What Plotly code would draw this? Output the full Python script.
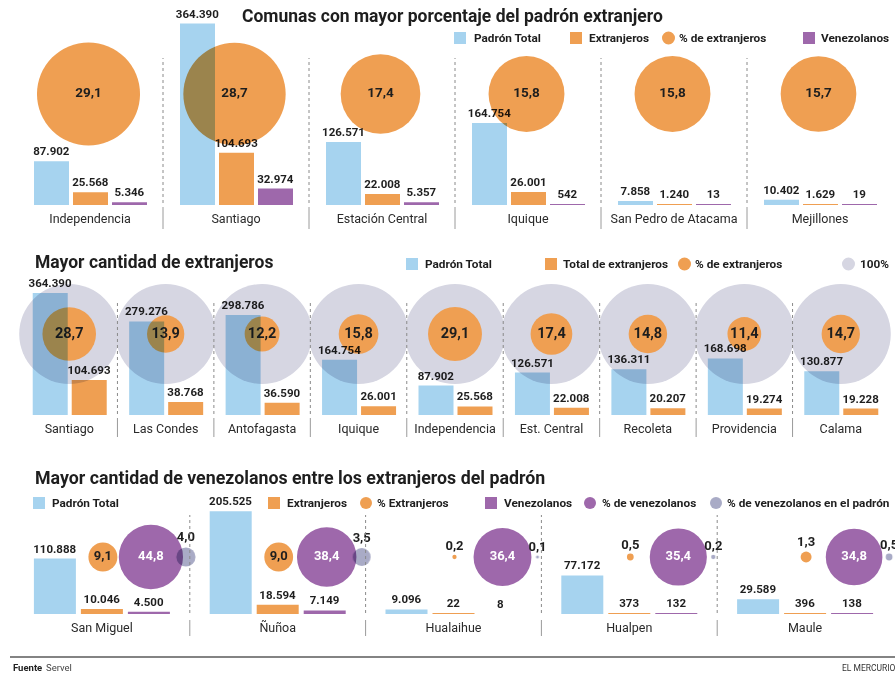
import plotly.graph_objects as go

W, H = 895, 677

# ---------------- DATA ----------------
# Section 1: Comunas con mayor porcentaje del padrón extranjero
s1_comunas = ["Independencia", "Santiago", "Estación Central", "Iquique",
              "San Pedro de Atacama", "Mejillones"]
s1_padron = [87902, 364390, 126571, 164754, 7858, 10402]
s1_extranjeros = [25568, 104693, 22008, 26001, 1240, 1629]
s1_venezolanos = [5346, 32974, 5357, 542, 13, 19]
s1_pct_extranjeros = [29.1, 28.7, 17.4, 15.8, 15.8, 15.7]

# Section 2: Mayor cantidad de extranjeros
s2_comunas = ["Santiago", "Las Condes", "Antofagasta", "Iquique", "Independencia",
              "Est. Central", "Recoleta", "Providencia", "Calama"]
s2_padron = [364390, 279276, 298786, 164754, 87902, 126571, 136311, 168698, 130877]
s2_extranjeros = [104693, 38768, 36590, 26001, 25568, 22008, 20207, 19274, 19228]
s2_pct_extranjeros = [28.7, 13.9, 12.2, 15.8, 29.1, 17.4, 14.8, 11.4, 14.7]
s2_total_pct = [100] * len(s2_comunas)

# Section 3: Mayor cantidad de venezolanos entre los extranjeros del padrón
s3_comunas = ["San Miguel", "Ñuñoa", "Hualaihue", "Hualpen", "Maule"]
s3_padron = [110888, 205525, 9096, 77172, 29589]
s3_extranjeros = [10046, 18594, 22, 373, 396]
s3_venezolanos = [4500, 7149, 8, 132, 138]
s3_pct_extranjeros = [9.1, 9.0, 0.2, 0.5, 1.3]
s3_pct_venezolanos = [44.8, 38.4, 36.4, 35.4, 34.8]
s3_pct_venez_padron = [4.0, 3.5, 0.1, 0.2, 0.5]

# ---------------- STYLE ----------------
BLUE = "#a6d3ef"
ORANGE = "#ef9f52"
PURPLE = "#9e68ab"
GRAY_BIG = "#d6d6e2"
GRAY_SMALL = "rgb(169,171,198)"
TXT = "#1e1e1e"
FONT = "Roboto, Liberation Sans, sans-serif"


def miles(v):
    return f"{v:,}".replace(",", ".")


def dec(v):
    return f"{v:.1f}".replace(".", ",")


def px(x):
    return x / W


def py(y):
    return 1 - y / H


# geometry of each panel (pixels)
GEOM = {
    1: dict(x0=17, x1=893, base=205, top=20, scale=0.000498, cy=94,
            dot=(58, 203), solid=(207, 229)),
    2: dict(x0=21, x1=889, base=415, top=275, scale=0.000335, cy=334,
            dot=(302, 414), solid=(418, 437)),
    3: dict(x0=14, x1=893, base=614, top=494, scale=0.0005, cy=557,
            dot=(515, 613), solid=(620, 636)),
}

fig = go.Figure()
shapes = []
annotations = []


def axis_names(k):
    return ("x" if k == 1 else f"x{k}"), ("y" if k == 1 else f"y{k}")


def setup_axes(k, names):
    g = GEOM[k]
    n = len(names)
    xa = dict(domain=[px(g["x0"]), px(g["x1"])], range=[-0.5, n - 0.5],
              tickvals=list(range(n)), ticktext=names, showgrid=False,
              zeroline=False, showline=False, ticks="", fixedrange=True,
              tickfont=dict(family=FONT, size=12.5, color="#2a2a2a"),
              ticklabelstandoff=4)
    ya = dict(domain=[py(g["base"]), py(g["top"])],
              range=[0, (g["base"] - g["top"]) / g["scale"]],
              visible=False, showgrid=False, zeroline=False, fixedrange=True)
    xk = "xaxis" if k == 1 else f"xaxis{k}"
    yk = "yaxis" if k == 1 else f"yaxis{k}"
    xa["anchor"] = axis_names(k)[1]
    ya["anchor"] = axis_names(k)[0]
    fig.update_layout({xk: xa, yk: ya})
    # separators
    xr, _ = axis_names(k)
    for i in range(n - 1):
        shapes.append(dict(type="line", xref=xr, yref="paper", x0=i + 0.5, x1=i + 0.5,
                           y0=py(g["dot"][1]), y1=py(g["dot"][0]),
                           line=dict(color="#8a8a8a", width=1, dash="dot")))
        shapes.append(dict(type="line", xref=xr, yref="paper", x0=i + 0.5, x1=i + 0.5,
                           y0=py(g["solid"][1]), y1=py(g["solid"][0]),
                           line=dict(color="#9a9a9a", width=1)))


def add_bars(k, names, values, color, name, center_px, width_px, tsize=11.5):
    g = GEOM[k]
    cat_px = (g["x1"] - g["x0"]) / len(names)
    xr, yr = axis_names(k)
    fig.add_trace(go.Bar(
        x=list(range(len(names))), y=values, name=name,
        xaxis=xr, yaxis=yr,
        width=width_px / cat_px, offset=(center_px - width_px / 2) / cat_px,
        marker=dict(color=color, line=dict(width=0)),
        text=[miles(v) for v in values], textposition="outside",
        textfont=dict(family=FONT, size=tsize, color=TXT, weight=700),
        constraintext="none", cliponaxis=False, showlegend=False,
        customdata=names, hovertemplate="%{customdata}: %{text}<extra>" + name + "</extra>",
    ))


def add_circles(k, names, values, color, name, diam, center_px=0,
                positions=None, tcolors=None, tsize=13, labels=True):
    g = GEOM[k]
    cat_px = (g["x1"] - g["x0"]) / len(names)
    xr, yr = axis_names(k)
    cy = (g["base"] - g["cy"]) / g["scale"]
    n = len(names)
    fig.add_trace(go.Scatter(
        x=[i + center_px / cat_px for i in range(n)], y=[cy] * n, name=name,
        xaxis=xr, yaxis=yr,
        mode="markers+text" if labels else "markers",
        marker=dict(size=diam, color=color, line=dict(width=0), opacity=1),
        text=[dec(v) for v in values] if labels else None,
        textposition=positions or "middle center",
        textfont=dict(family=FONT, size=tsize, color=tcolors or TXT, weight=700),
        cliponaxis=False, showlegend=False,
        customdata=names, hovertemplate="%{customdata}: " + "%{text}<extra>" + name + "</extra>",
    ))


# ---------------- SECTION 1 ----------------
setup_axes(1, s1_comunas)
add_bars(1, s1_comunas, s1_padron, BLUE, "Padrón Total", -38.5, 35)
add_bars(1, s1_comunas, s1_extranjeros, ORANGE, "Extranjeros", 0.5, 35)
add_bars(1, s1_comunas, s1_venezolanos, PURPLE, "Venezolanos", 39.5, 35)
add_circles(1, s1_comunas, s1_pct_extranjeros, ORANGE, "% de extranjeros",
            [19.1 * v ** 0.5 for v in s1_pct_extranjeros], center_px=-1.5, tsize=13.5)

# ---------------- SECTION 2 ----------------
setup_axes(2, s2_comunas)
add_bars(2, s2_comunas, s2_padron, BLUE, "Padrón Total", -19, 35)
add_bars(2, s2_comunas, s2_extranjeros, ORANGE, "Total de extranjeros", 20, 35)
add_circles(2, s2_comunas, s2_total_pct, GRAY_BIG, "100%",
            [10 * v ** 0.5 for v in s2_total_pct], labels=False)
add_circles(2, s2_comunas, s2_pct_extranjeros, ORANGE, "% de extranjeros",
            [10 * v ** 0.5 for v in s2_pct_extranjeros], tsize=14.5)

# ---------------- SECTION 3 ----------------
setup_axes(3, s3_comunas)
add_bars(3, s3_comunas, s3_padron, BLUE, "Padrón Total", -47, 42)
add_bars(3, s3_comunas, s3_extranjeros, ORANGE, "Extranjeros", 0, 42)
add_bars(3, s3_comunas, s3_venezolanos, PURPLE, "Venezolanos", 47, 42)
add_circles(3, s3_comunas, s3_pct_extranjeros, ORANGE, "% Extranjeros",
            [9.6 * v ** 0.5 for v in s3_pct_extranjeros], center_px=1,
            positions=["middle center" if v >= 5 else "top center" for v in s3_pct_extranjeros])
add_circles(3, s3_comunas, s3_pct_venezolanos, PURPLE, "% de venezolanos",
            [9.6 * v ** 0.5 for v in s3_pct_venezolanos], center_px=49,
            tcolors="white")
add_circles(3, s3_comunas, s3_pct_venez_padron, GRAY_SMALL, "% de venezolanos en el padrón",
            [9.6 * v ** 0.5 for v in s3_pct_venez_padron], center_px=84,
            positions="top center")

# ---------------- TITLES & LEGENDS ----------------
def title(text, x, y, anchor="left", size=17.5):
    annotations.append(dict(text=text, x=px(x), y=py(y), xref="paper", yref="paper",
                            xanchor=anchor, yanchor="middle", showarrow=False,
                            font=dict(family=FONT, size=size, color=TXT, weight=700)))


def legend_item(kind, color, label, x, y, s=12, tx=None):
    shapes.append(dict(type="rect" if kind == "square" else "circle",
                       xref="paper", yref="paper",
                       x0=px(x), x1=px(x + s), y0=py(y + s / 2), y1=py(y - s / 2),
                       fillcolor=color, line=dict(width=0)))
    annotations.append(dict(text=label, x=px(tx if tx is not None else x + s + 6), y=py(y),
                            xref="paper", yref="paper", xanchor="left", yanchor="middle",
                            showarrow=False,
                            font=dict(family=FONT, size=11.8, color=TXT, weight=700)))


title("Comunas con mayor porcentaje del padrón extranjero", 452, 16, anchor="center")
legend_item("square", BLUE, "Padrón Total", 454, 38, tx=472)
legend_item("square", ORANGE, "Extranjeros", 570, 38, tx=587)
legend_item("circle", ORANGE, "% de extranjeros", 662, 38, s=13, tx=677)
legend_item("square", PURPLE, "Venezolanos", 803, 38, tx=819)

title("Mayor cantidad de extranjeros", 33, 262)
legend_item("square", BLUE, "Padrón Total", 406, 264, tx=423)
legend_item("square", ORANGE, "Total de extranjeros", 545, 264, tx=561)
legend_item("circle", ORANGE, "% de extranjeros", 678, 264, s=13, tx=693)
legend_item("circle", GRAY_BIG, "100%", 842, 264, s=13, tx=858)

title("Mayor cantidad de venezolanos entre los extranjeros del padrón", 33, 477, size=17.8)
legend_item("square", BLUE, "Padrón Total", 33, 503, tx=50)
legend_item("square", ORANGE, "Extranjeros", 268, 503, tx=285)
legend_item("circle", ORANGE, "% Extranjeros", 360, 503, tx=375)
legend_item("square", PURPLE, "Venezolanos", 485, 503, tx=502)
legend_item("circle", PURPLE, "% de venezolanos", 584, 503, tx=600)
legend_item("circle", GRAY_SMALL, "% de venezolanos en el padrón", 710, 503, tx=725)

# footer
shapes.append(dict(type="line", xref="paper", yref="paper", x0=px(10), x1=px(895),
                   y0=py(657), y1=py(657), line=dict(color="#5a5a5a", width=1.5)))
annotations.append(dict(text="Fuente", x=px(11), y=py(667), xref="paper",
                        yref="paper", xanchor="left", yanchor="middle", showarrow=False,
                        font=dict(family=FONT, size=9.5, color="#222", weight=700)))
annotations.append(dict(text="Servel", x=px(44), y=py(667), xref="paper",
                        yref="paper", xanchor="left", yanchor="middle", showarrow=False,
                        font=dict(family=FONT, size=9.5, color="#444")))
annotations.append(dict(text="EL MERCURIO", x=px(840), y=py(668), xref="paper",
                        yref="paper", xanchor="left", yanchor="middle", showarrow=False,
                        font=dict(family=FONT, size=8.5, color="#333")))

fig.update_layout(
    width=W, height=H, margin=dict(l=0, r=0, t=0, b=0),
    paper_bgcolor="white", plot_bgcolor="rgba(0,0,0,0)",
    barmode="overlay", showlegend=False,
    shapes=shapes, annotations=annotations,
    font=dict(family=FONT, color=TXT),
)

post = """
document.body.style.margin = '0';
var gd = document.getElementById('{plot_id}');
gd.querySelectorAll('.scatterlayer').forEach(function(l){ l.style.mixBlendMode = 'multiply'; });
gd.querySelectorAll('.scatterlayer path.point').forEach(function(p){
  if ((p.style.fill || '').replace(/\\s/g, '') === 'rgb(169,171,198)') { p.style.mixBlendMode = 'multiply'; }
});
"""

fig.write_html("out.html", post_script=post, config={"displayModeBar": False})
